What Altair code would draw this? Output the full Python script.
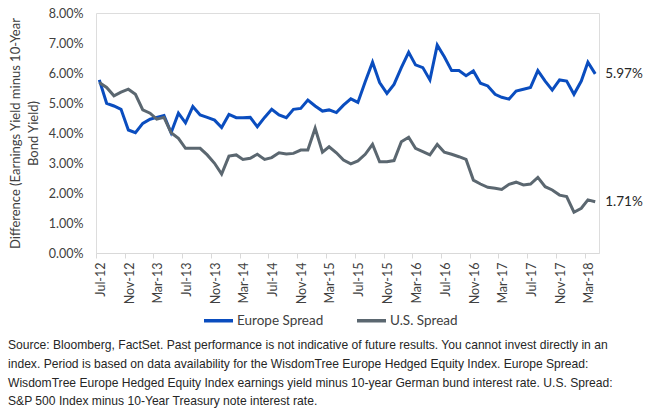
import altair as alt
import pandas as pd

months = [f"{y}-{m:02d}-15T00:00:00" for y in range(2012, 2019) for m in range(1, 13)]
months = months[6:6 + 70]  # Jul-2012 .. Apr-2018

europe = [5.77, 4.99, 4.90, 4.79, 4.10, 4.01, 4.32, 4.46, 4.52, 4.58,
          4.01, 4.66, 4.34, 4.88, 4.60, 4.52, 4.43, 4.18, 4.62, 4.51,
          4.51, 4.52, 4.21, 4.52, 4.79, 4.60, 4.51, 4.79, 4.82, 5.10,
          4.90, 4.73, 4.77, 4.68, 4.93, 5.14, 5.02, 5.71, 6.36, 5.68,
          5.32, 5.62, 6.18, 6.69, 6.27, 6.18, 5.77, 6.93, 6.54, 6.08,
          6.08, 5.91, 6.07, 5.66, 5.57, 5.29, 5.19, 5.13, 5.40, 5.46,
          5.52, 6.08, 5.73, 5.43, 5.77, 5.73, 5.29, 5.73, 6.36, 5.97]

us = [5.68, 5.52, 5.24, 5.36, 5.46, 5.29, 4.77, 4.66, 4.46, 4.52,
      4.01, 3.82, 3.49, 3.49, 3.49, 3.27, 2.99, 2.63, 3.23, 3.27,
      3.12, 3.16, 3.29, 3.12, 3.18, 3.34, 3.30, 3.32, 3.43, 3.43,
      4.16, 3.36, 3.54, 3.34, 3.10, 2.97, 3.07, 3.29, 3.62, 3.04,
      3.04, 3.08, 3.71, 3.86, 3.49, 3.38, 3.27, 3.62, 3.36, 3.29,
      3.21, 3.12, 2.43, 2.30, 2.19, 2.16, 2.12, 2.29, 2.36, 2.27,
      2.30, 2.52, 2.21, 2.10, 1.93, 1.88, 1.36, 1.49, 1.77, 1.71]

series_names = ["Europe Spread", "U.S. Spread"]
series_colors = ["#0A4DBF", "#5B6770"]

tick_months = [(2012 + (6 + 4 * k) // 12, (6 + 4 * k) % 12 + 1) for k in range(18)]

source_lines = [
    "Source: Bloomberg, FactSet. Past performance is not indicative of future results. You cannot invest directly in an",
    "index. Period is based on data availability for the WisdomTree Europe Hedged Equity Index. Europe Spread:",
    "WisdomTree Europe Hedged Equity Index earnings yield minus 10-year German bund interest rate. U.S. Spread:",
    "S&P 500 Index minus 10-Year Treasury note interest rate.",
]

rows = []
n = len(months)
for name, vals in zip(series_names, [europe, us]):
    for i, (d, v) in enumerate(zip(months, vals)):
        rows.append({"date": d, "value": v / 100, "series": name,
                     "is_last": i == n - 1})
df = pd.DataFrame(rows)

FONT = "Lato"

x_enc = alt.X(
    "date:T",
    scale=alt.Scale(domain=[alt.DateTime(year=2012, month=7, date=1),
                            alt.DateTime(year=2018, month=5, date=1)]),
    axis=alt.Axis(
        values=[alt.DateTime(year=y, month=m, date=1) for y, m in tick_months],
        format="%b-%y", labelAngle=-90, labelAlign="right", labelBaseline="middle",
        labelFontSize=12.5, labelColor="#404040", labelFont=FONT, labelPadding=4,
        domainColor="#D9D9D9", tickColor="#D9D9D9", tickSize=5, grid=False,
        title=None, labelOverlap=False, labelSeparation=0, labelOffset=4,
    ),
)
y_enc = alt.Y(
    "value:Q",
    scale=alt.Scale(domain=[0, 0.08]),
    axis=alt.Axis(
        values=[i / 100 for i in range(9)], format=".2%", grid=False, domain=False,
        ticks=False, labelPadding=13, labelFontSize=12.5, labelColor="#404040",
        labelFont=FONT, labelOverlap=False, labelSeparation=0,
        title=["Difference (Earnings Yield minus 10-Year", "Bond Yield)"],
        titleFontSize=13, titleFontWeight="normal", titleColor="#404040",
        titleFont=FONT, titlePadding=8, titleLineHeight=18,
    ),
)

color_enc = alt.Color(
    "series:N",
    scale=alt.Scale(domain=series_names, range=series_colors),
    legend=alt.Legend(
        title=None, orient="none", direction="horizontal", legendX=106, legendY=291,
        symbolType="stroke", symbolStrokeWidth=3.5, symbolSize=841,
        labelFontSize=13.5, labelFont=FONT, labelColor="#404040",
        columnPadding=26, labelOffset=2,
    ),
)

base = alt.Chart(df).encode(x=x_enc, y=y_enc)

lines = base.mark_line(strokeWidth=3, interpolate="linear").encode(color=color_enc)

labels = base.mark_text(
    align="left", baseline="middle", dx=10, fontSize=13.5, font=FONT, color="#262626"
).encode(
    text=alt.Text("value:Q", format=".2%")
).transform_filter("datum.is_last")

chart = alt.layer(lines, labels).properties(
    width=503, height=240,
    autosize=alt.AutoSizeParams(type="none"),
    padding={"left": 96, "top": 13, "right": 46, "bottom": 166},
    title=alt.TitleParams(
        text=source_lines, orient="bottom", anchor="start", frame="group",
        fontSize=12.1, font="Liberation Sans", fontWeight="normal", color="#262626",
        lineHeight=18.8, offset=11, dx=-88,
    ),
).configure_view(stroke=None).configure(background="white").configure_axis(
    labelOverlap=False
)

chart.save("out.html", embed_options={"renderer": "svg", "actions": False})
